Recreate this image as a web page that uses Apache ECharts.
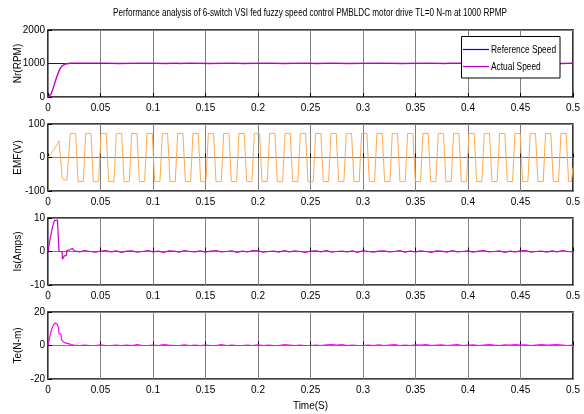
<!DOCTYPE html>
<html>
<head>
<meta charset="utf-8">
<script src="https://cdn.jsdelivr.net/npm/echarts@6/dist/echarts.min.js"></script>
<style>html,body{margin:0;padding:0;background:#fff}#c{width:584px;height:414px}</style>
</head>
<body>
<div id="c"></div>
<script>
// ---- Data ----
var titleText = 'Performance analysis of 6-switch VSI fed fuzzy speed control PMBLDC motor drive TL=0 N-m at 1000 RPMP';
var yNames = ['Nr(RPM)', 'EMF(V)', 'Is(Amps)', 'Te(N-m)'];
var xName = 'Time(S)';
var legendNames = ['Reference Speed', 'Actual Speed'];

var refSpeedT = [0, 0.5];
var refSpeedV = [1000, 1000];

var actSpeedT = [0,0.0015,0.003,0.0045,0.006,0.0075,0.009,0.0105,0.012,0.0135,0.015,0.0165,0.018,0.0195,0.022,
  0.054,0.0545,0.067,0.0675,0.094,0.0945,0.112,0.1125,0.123,0.1235,0.125,0.1255,0.135,0.1355,0.154,0.1545,0.177,0.1775,
  0.186,0.1865,0.209,0.2095,0.224,0.2245,0.245,0.2455,0.256,0.2565,0.271,0.2715,0.285,0.2855,0.316,0.3165,0.337,0.3375,
  0.362,0.3625,0.378,0.3785,0.383,0.3835,0.490,0.4905,0.5];
var actSpeedV = [0,20,90,220,370,520,660,780,870,930,965,985,995,1000,1012,
  1012,1000,1000,1012,1012,1000,1000,1012,1012,1000,1000,1012,1012,1000,1000,1012,1012,1000,
  1000,1012,1012,1000,1000,1012,1012,1000,1000,1012,1012,1000,1000,1012,1012,1000,1000,1012,
  1012,1000,1000,1012,1012,1000,1000,1012,1012];

var emfT = [0,0.003,0.006,0.009,0.0105,0.0135,0.0155,0.018,0.019,
  0.0213,0.0263,0.0286,0.0336, 0.0359,0.0409,0.0432,0.0482, 0.0505,0.0555,0.0578,0.0628, 0.0651,0.0701,0.0724,0.0774,
  0.0797,0.0847,0.0870,0.0920, 0.0943,0.0993,0.1016,0.1066, 0.1089,0.1139,0.1162,0.1212, 0.1235,0.1285,0.1308,0.1358,
  0.1381,0.1431,0.1454,0.1504, 0.1527,0.1577,0.1600,0.1650, 0.1673,0.1723,0.1746,0.1796, 0.1819,0.1869,0.1892,0.1942,
  0.1965,0.2015,0.2038,0.2088, 0.2111,0.2161,0.2184,0.2234, 0.2257,0.2307,0.2330,0.2380, 0.2403,0.2453,0.2476,0.2526,
  0.2549,0.2599,0.2622,0.2672, 0.2695,0.2745,0.2768,0.2818, 0.2841,0.2891,0.2914,0.2964, 0.2987,0.3037,0.3060,0.3110,
  0.3133,0.3183,0.3206,0.3256, 0.3279,0.3329,0.3352,0.3402, 0.3425,0.3475,0.3498,0.3548, 0.3571,0.3621,0.3644,0.3694,
  0.3717,0.3767,0.3790,0.3840, 0.3863,0.3913,0.3936,0.3986, 0.4009,0.4059,0.4082,0.4132, 0.4155,0.4205,0.4228,0.4278,
  0.4301,0.4351,0.4374,0.4424, 0.4447,0.4497,0.4520,0.4570, 0.4593,0.4643,0.4666,0.4716, 0.4739,0.4789,0.4812,0.4862,
  0.4885,0.4935,0.4958,0.4985,0.5];
var emfV = [0,12,25,40,50,-62,-66,-68,-68,
  72,72,-72,-72, 72,72,-72,-72, 72,72,-72,-72, 72,72,-72,-72,
  72,72,-72,-72, 72,72,-72,-72, 72,72,-72,-72, 72,72,-72,-72,
  72,72,-72,-72, 72,72,-72,-72, 72,72,-72,-72, 72,72,-72,-72,
  72,72,-72,-72, 72,72,-72,-72, 72,72,-72,-72, 72,72,-72,-72,
  72,72,-72,-72, 72,72,-72,-72, 72,72,-72,-72, 72,72,-72,-72,
  72,72,-72,-72, 72,72,-72,-72, 72,72,-72,-72, 72,72,-72,-72,
  72,72,-72,-72, 72,72,-72,-72, 72,72,-72,-72, 72,72,-72,-72,
  72,72,-72,-72, 72,72,-72,-72, 72,72,-72,-72, 72,72,-72,-72,
  72,72,-72,-72,-30];

var isStartT = [0,0.002,0.004,0.006,0.0075,0.009,0.0098,0.0105,0.0134,0.0137,0.0153,0.0155,0.0175,0.0178,0.0205,0.0208,0.0232,0.0236];
var isStartV = [0,3.8,7.0,9.2,9.7,9.4,9.0,0,0,-2.3,-2.3,-1.3,-1.2,0.3,0.5,1.0,0.9,0.4];

var teStartT = [0,0.001,0.002,0.003,0.004,0.005,0.006,0.007,0.008,0.009,0.010,0.0105,0.0125,0.0128,0.0145,0.0148,0.0165,0.0168,0.0195,0.0198,0.022,0.0225];
var teStartV = [0,3,6,8.5,10.5,12,13,13.5,13.5,12.5,10.5,7,6.6,3.5,3.2,2.2,2.0,1.4,1.1,0.7,0.5,0.2];

var steadyT = [0.025,0.03,0.035,0.04,0.045,0.05,0.055,0.06,0.065,0.07,
  0.075,0.08,0.085,0.09,0.095,0.1,0.105,0.11,0.115,0.12,
  0.125,0.13,0.135,0.14,0.145,0.15,0.155,0.16,0.165,0.17,
  0.175,0.18,0.185,0.19,0.195,0.2,0.205,0.21,0.215,0.22,
  0.225,0.23,0.235,0.24,0.245,0.25,0.255,0.26,0.265,0.27,
  0.275,0.28,0.285,0.29,0.295,0.3,0.305,0.31,0.315,0.32,
  0.325,0.33,0.335,0.34,0.345,0.35,0.355,0.36,0.365,0.37,
  0.375,0.38,0.385,0.39,0.395,0.4,0.405,0.41,0.415,0.42,
  0.425,0.43,0.435,0.44,0.445,0.45,0.455,0.46,0.465,0.47,
  0.475,0.48,0.485,0.49,0.495,0.5];
var isSteadyV = [0.2,-0.1,0.3,0,-0.2,0.1,0.3,-0.1,0.2,-0.3,
  0.1,0.2,-0.2,0,0.3,-0.1,0.1,-0.3,0.2,0.1,
  -0.2,0.3,0,-0.1,0.2,-0.2,0.1,0.3,-0.1,0,
  0.2,-0.3,0.1,-0.1,0.3,0.2,-0.2,0,0.1,-0.2,
  0.3,-0.1,0.2,0,-0.3,0.1,0.2,-0.1,0.3,-0.2,
  0,0.1,-0.1,0.2,-0.3,0.3,0,-0.2,0.1,0.2,
  -0.1,0,0.3,-0.2,0.1,-0.1,0.2,0,-0.3,0.2,
  0.1,-0.2,0.3,-0.1,0,0.2,-0.2,0.1,0.3,-0.1,
  0,0.2,-0.3,0.1,-0.1,0.2,0.3,-0.2,0,0.1,
  -0.2,0.2,-0.1,0.3,0,-0.1];
var teSteadyV = [0.3,0,0.2,0,0,0.4,0,0,0.3,0,
  0.2,0,0.5,0,0,0.3,0,0.6,0.2,0,
  0,0.4,0,0.2,0,0.3,0,0,0.5,0,
  0.2,0,0,0.3,0,0.4,0,0.2,0,0,
  0.6,0.3,0,0.2,0,0,0.3,0,0.4,0.6,
  0.2,0.5,0,0.3,0,0,0.2,0,0.4,0,
  0.3,0.5,0,0.2,0,0.4,0.3,0.5,0,0.2,
  0.4,0,0.3,0.5,0,0.2,0.4,0,0.3,0.5,
  0.2,0,0.4,0.3,0.6,0.2,0.4,0,0.3,0.5,
  0.2,0.4,0.6,0.3,0,0.2];

var yRanges = [[0, 2000, 1000], [-100, 100, 100], [-10, 10, 10], [-20, 20, 20]];
var xRange = [0, 0.5, 0.05];
var seriesColors = ['#0000ff', '#c000c0', '#ffa850', '#c800c8', '#ff00ff'];

// ---- Build chart ----
function zip(t, v) { var o = []; for (var i = 0; i < Math.min(t.length, v.length); i++) o.push([t[i], v[i]]); return o; }
var sans = "'Liberation Sans',Arial,sans-serif";
var gridTops = [30, 124, 218, 312];
var grids = [], xAxes = [], yAxes = [];
for (var i = 0; i < 4; i++) {
  grids.push({ left: 48, right: 11, top: gridTops[i], height: 67, show: true, borderColor: '#000', borderWidth: 1.6,
    backgroundColor: '#fff', containLabel: false, outerBoundsMode: 'none' });
  xAxes.push({
    type: 'value', gridIndex: i, min: xRange[0], max: xRange[1], interval: xRange[2],
    axisLine: { show: false }, axisTick: { show: true, inside: true, length: 4, lineStyle: { color: '#000' } },
    axisLabel: { color: '#000', fontSize: 10, fontFamily: sans, margin: 6, formatter: function (v) { return String(+v.toFixed(2)); } },
    splitLine: { show: true, lineStyle: { color: '#808080', width: 1 } },
    name: i === 3 ? xName : '', nameLocation: 'middle', nameGap: 22, nameMoveOverlap: false,
    nameTextStyle: { color: '#000', fontSize: 10, fontFamily: sans }
  });
  yAxes.push({
    type: 'value', gridIndex: i, min: yRanges[i][0], max: yRanges[i][1], interval: yRanges[i][2],
    axisLine: { show: false }, axisTick: { show: true, inside: true, length: 4, lineStyle: { color: '#000' } },
    axisLabel: { color: '#000', fontSize: 10, fontFamily: sans, margin: 3, formatter: function (v) { return String(v); } },
    splitLine: { show: true, lineStyle: { color: '#808080', width: 1 } },
    name: yNames[i], nameLocation: 'middle', nameGap: 25, nameRotate: 90, nameMoveOverlap: false,
    nameTextStyle: { color: '#000', fontSize: 10, fontFamily: sans }
  });
}
function line(name, xi, data, color, w) {
  return { name: name, type: 'line', xAxisIndex: xi, yAxisIndex: xi, data: data, showSymbol: false, symbol: 'none',
    lineStyle: { color: color, width: w || 1 }, itemStyle: { color: color }, animation: false, silent: true };
}
var series = [
  line(legendNames[0], 0, zip(refSpeedT, refSpeedV), seriesColors[0], 1.2),
  line(legendNames[1], 0, zip(actSpeedT, actSpeedV), seriesColors[1], 1.4),
  line('EMF', 1, zip(emfT, emfV), seriesColors[2], 1),
  line('Is', 2, zip(isStartT, isStartV).concat(zip(steadyT, isSteadyV)), seriesColors[3], 1.2),
  line('Te', 3, zip(teStartT, teStartV).concat(zip(steadyT, teSteadyV)), seriesColors[4], 1.2)
];
var chart = echarts.init(document.getElementById('c'), null, { renderer: 'canvas' });
chart.setOption({
  animation: false,
  backgroundColor: '#fff',
  graphic: [
    { type: 'text', x: 310, y: 13, scaleX: 0.74, z: 10,
      style: { text: titleText, fontSize: 11, fontFamily: sans, fill: '#000', align: 'center', verticalAlign: 'middle' } },
    { type: 'rect', shape: { x: 461.5, y: 36.5, width: 98.5, height: 41.5 }, z: 10,
      style: { fill: '#fff', stroke: '#000', lineWidth: 1 } },
    { type: 'line', shape: { x1: 463, y1: 49.5, x2: 489, y2: 49.5 }, z: 11, style: { stroke: seriesColors[0], lineWidth: 1.2 } },
    { type: 'line', shape: { x1: 463, y1: 66.5, x2: 489, y2: 66.5 }, z: 11, style: { stroke: seriesColors[1], lineWidth: 1.2 } },
    { type: 'text', x: 491, y: 49.5, scaleX: 0.76, z: 11,
      style: { text: legendNames[0], fontSize: 11, fontFamily: sans, fill: '#000', verticalAlign: 'middle' } },
    { type: 'text', x: 491, y: 66.5, scaleX: 0.76, z: 11,
      style: { text: legendNames[1], fontSize: 11, fontFamily: sans, fill: '#000', verticalAlign: 'middle' } }
  ],
  grid: grids, xAxis: xAxes, yAxis: yAxes, series: series
});
</script>
</body>
</html>
